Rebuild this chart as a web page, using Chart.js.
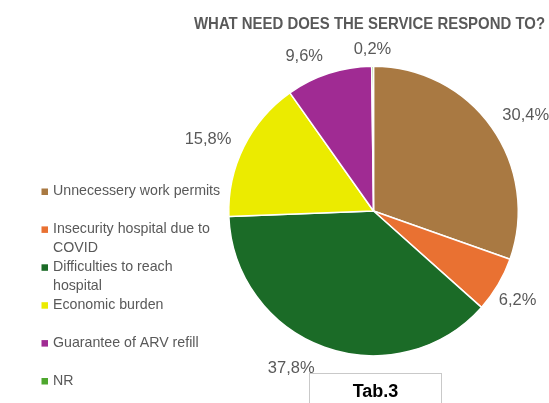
<!DOCTYPE html>
<html><head><meta charset="utf-8">
<script src="https://cdn.jsdelivr.net/npm/chart.js@4.4.0/dist/chart.umd.min.js"></script>
<style>html,body{margin:0;padding:0;background:#fff;}#wrap{width:549px;height:403px;position:relative;}</style>
</head><body><div id="wrap"><canvas id="c" width="549" height="403"></canvas></div>
<script>
const titleText = 'WHAT NEED DOES THE SERVICE RESPOND TO?';
const categories = ['Unnecessery work permits','Insecurity hospital due to COVID','Difficulties to reach hospital','Economic burden','Guarantee of ARV refill','NR'];
const values = [30.4, 6.2, 37.8, 15.8, 9.6, 0.2];
const colors = ['#A97942','#E97132','#1B6B27','#EBEB00','#A02B93','#4EA72E'];
const tabLabel = 'Tab.3';

const fmt = v => v.toFixed(1).replace('.', ',') + '%';
const FONT = '"Liberation Sans", Arial, sans-serif';
// "best fit" style nudges of the outside labels (degrees, clockwise) and gaps (px)
const labelNudgeDeg = [3, 1, 8, -2.5, -6, 0];
const labelGap = [12, 5, 15, 12, 12, 11.5];

const decor = {
  id: 'decor',
  afterDraw(chart) {
    const ctx = chart.ctx;
    ctx.save();
    // title (fit to reference width)
    ctx.fillStyle = '#595959';
    ctx.font = 'bold 16.5px ' + FONT;
    ctx.textBaseline = 'middle';
    ctx.textAlign = 'left';
    const tw = ctx.measureText(titleText).width;
    ctx.save();
    ctx.translate(194, 24.5);
    ctx.scale(351 / tw, 1);
    ctx.fillText(titleText, 0, 0);
    ctx.restore();
    // data labels
    const meta = chart.getDatasetMeta(0);
    ctx.font = '16.5px ' + FONT;
    ctx.textAlign = 'center';
    meta.data.forEach((arc, i) => {
      const p = arc.getProps(['x','y','startAngle','endAngle','outerRadius'], true);
      const mid = (p.startAngle + p.endAngle) / 2 + labelNudgeDeg[i] * Math.PI / 180;
      const t = fmt(values[i]);
      const w = ctx.measureText(t).width, h = 13;
      const c = Math.cos(mid), s = Math.sin(mid);
      const d = p.outerRadius + labelGap[i] + Math.abs(c) * w / 2 + Math.abs(s) * h / 2;
      ctx.fillText(t, p.x + c * d, p.y + s * d + 1);
    });
    // legend
    ctx.font = '14.2px ' + FONT;
    ctx.textAlign = 'left';
    const maxW = 172;
    categories.forEach((lab, i) => {
      const y = 191.5 + i * 37.9;
      ctx.fillStyle = colors[i];
      ctx.fillRect(41.5, y - 3, 6.5, 6.5);
      ctx.fillStyle = '#595959';
      const words = lab.split(' ');
      let line = '', ly = y;
      words.forEach(wd => {
        const test = line ? line + ' ' + wd : wd;
        if (ctx.measureText(test).width > maxW && line) {
          ctx.fillText(line, 53, ly); line = wd; ly += 19;
        } else line = test;
      });
      ctx.fillText(line, 53, ly);
    });
    // Tab box
    ctx.strokeStyle = '#c9c9c9';
    ctx.lineWidth = 1;
    ctx.strokeRect(309.5, 373.5, 132, 40);
    ctx.fillStyle = '#000';
    ctx.font = 'bold 18px ' + FONT;
    ctx.textAlign = 'center';
    ctx.fillText(tabLabel, 375.5, 392);
    ctx.restore();
  }
};

new Chart(document.getElementById('c'), {
  type: 'pie',
  data: {
    labels: categories,
    datasets: [{ data: values, backgroundColor: colors, borderColor: '#ffffff', borderWidth: 1.5 }]
  },
  options: {
    responsive: false,
    animation: false,
    layout: { padding: { left: 228, right: 30, top: 65, bottom: 46 } },
    plugins: { legend: { display: false }, title: { display: false }, tooltip: { enabled: false } }
  },
  plugins: [decor]
});
</script></body></html>
